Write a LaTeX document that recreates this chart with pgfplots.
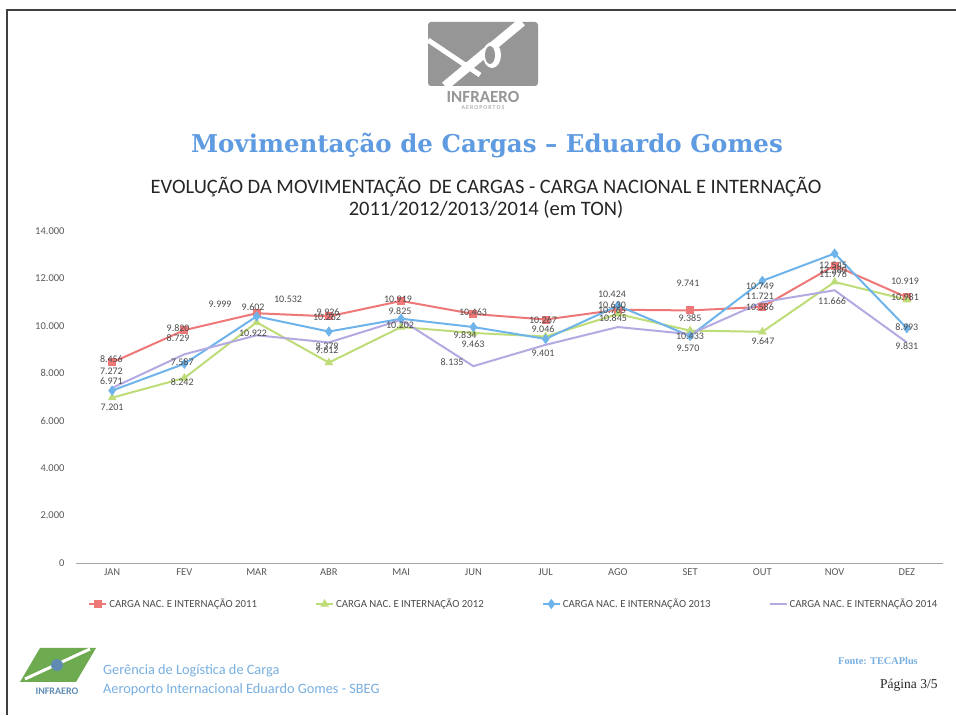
\documentclass[border=0pt]{standalone}
\usepackage{pgfplots}
\pgfplotsset{compat=1.18}
\usepackage{pgfplotstable}
\usepackage{fontspec}
\setmainfont{Carlito}
\newfontfamily\titlefont{DejaVu Serif}
\newfontfamily\pagefont{Liberation Serif}
\definecolor{c11}{RGB}{238,120,120}
\definecolor{c12}{RGB}{190,220,120}
\definecolor{c13}{RGB}{110,180,235}
\definecolor{c14}{RGB}{180,170,225}
\definecolor{tblue}{RGB}{95,155,225}
\definecolor{fblue}{RGB}{120,175,225}
\definecolor{lgray}{RGB}{150,150,150}
\definecolor{lgreen}{RGB}{110,170,80}

\pgfplotstableread{
m v11 v12 v13 v14
0 8456 6971 7272 7380
1 9820 7800 8400 8800
2 10532 10150 10400 9602
3 10400 8450 9760 9300
4 11050 9950 10300 10250
5 10500 9700 9950 8300
6 10267 9550 9450 9200
7 10680 10500 10850 9950
8 10650 9800 9570 9650
9 10800 9750 11900 11000
10 12545 11850 13050 11500
11 11200 11100 9900 9300
}\datatab

\pgfplotstableread{
x y lab
-0.01 8607 8.456
-0.01 8100 7.272
-0.01 7679 6.971
0.0 6582 7.201
0.913 9915 9.820
0.913 9493 8.729
0.97 8480 7.587
0.97 7636 8.242
1.494 10927 9.999
1.951 10801 9.602
2.435 11138 10.532
1.951 9704 10.922
2.989 10590 9.926
2.975 10379 10.262
2.975 9155 9.379
2.975 8986 9.612
3.957 11138 10.919
3.985 10632 9.825
3.985 10041 10.202
4.995 10590 10.463
4.884 9619 9.834
4.995 9240 9.463
4.705 8480 8.135
5.964 10252 10.267
5.964 9872 9.046
5.964 8860 9.401
6.918 11349 10.424
6.918 10885 10.630
6.918 10674 10.765
6.932 10337 10.845
7.970 11813 9.741
7.998 10337 9.385
7.998 9577 10.433
7.970 9071 9.570
8.966 11687 10.749
8.966 11265 11.721
8.966 10801 10.586
9.008 9366 9.647
9.977 12573 12.545
9.977 12362 12.380
9.977 12193 11.976
9.963 11054 11.666
10.973 11898 10.919
10.973 11223 10.981
11.0 9957 8.993
11.0 9155 9.831
}\labtab

\begin{document}
\begin{tikzpicture}
\path[use as bounding box] (0pt,0pt) rectangle (956pt,715pt);
\fill[white] (0pt,0pt) rectangle (956pt,715pt);
% frame
\draw[line width=2.5pt, black!75] (7pt,0pt) -- (7pt,705pt) -- (956pt,705pt);
% top logo
\fill[lgray, rounded corners=3pt] (428pt,629pt) rectangle (538pt,693pt);
\draw[white, line width=9pt] (445pt,629pt) -- (522pt,693pt);
\draw[white, line width=5pt] (428pt,675pt) -- (480pt,640pt);
\fill[white] (492pt,660pt) ellipse (9pt and 13pt);
\fill[lgray] (490pt,660pt) ellipse (5pt and 9pt);
\node[text=lgray, font=\bfseries\fontsize{17}{17}\selectfont, inner sep=0pt] at (483pt,618pt) {INFRAERO};
\node[text=lgray, font=\fontsize{6}{6}\selectfont, inner sep=0pt] at (483pt,607pt) {A\,E\,R\,O\,P\,O\,R\,T\,O\,S};
% titles
\node[text=tblue, font=\titlefont\bfseries\fontsize{24.5}{26}\selectfont, inner sep=0pt] at (487pt,569pt) {Movimentação de Cargas – Eduardo Gomes};
\node[text=black!85, font=\fontsize{20.5}{21.5}\selectfont, inner sep=0pt, align=center] at (486pt,517pt) {EVOLUÇÃO DA MOVIMENTAÇÃO \,DE CARGAS - CARGA NACIONAL E INTERNAÇÃO\\2011/2012/2013/2014 (em TON)};

\begin{axis}[
  at={(76pt,152pt)}, anchor=south west,
  scale only axis, width=867pt, height=332pt,
  xmin=-0.5, xmax=11.5, ymin=0, ymax=14000,
  xtick={0,...,11},
  xticklabels={JAN,FEV,MAR,ABR,MAI,JUN,JUL,AGO,SET,OUT,NOV,DEZ},
  ytick={0,2000,...,14000},
  scaled y ticks=false,
  /pgf/number format/.cd, 1000 sep={.}, assume math mode=true, /pgfplots/.cd,
  separate axis lines,
  axis x line*=bottom, axis y line*=left,
  y axis line style={draw=none},
  x axis line style={draw=black!35, line width=0.8pt},
  tick style={draw=none},
  ticklabel style={font=\fontsize{10.5}{10.5}\selectfont, text=black!65},
  yticklabel style={xshift=-8pt},
  xticklabel style={yshift=-2pt},
  clip=false,
  legend style={at={(0.505,-0.1235)}, anchor=center, draw=none, fill=none,
    font=\fontsize{10.8}{11}\selectfont, text=black!70, legend columns=4,
    /tikz/every even column/.append style={column sep=56pt}},
  legend cell align=left,
  every axis plot/.append style={line width=2pt},
]
\addplot[c11, mark=square*, mark size=3pt] table[x=m, y=v11]{\datatab};
\addlegendentry{CARGA NAC. E INTERNAÇÃO 2011}
\addplot[c12, mark=triangle*, mark size=3pt] table[x=m, y=v12]{\datatab};
\addlegendentry{CARGA NAC. E INTERNAÇÃO 2012}
\addplot[c13, mark=diamond*, mark size=3.5pt] table[x=m, y=v13]{\datatab};
\addlegendentry{CARGA NAC. E INTERNAÇÃO 2013}
\addplot[c14] table[x=m, y=v14]{\datatab};
\addlegendentry{CARGA NAC. E INTERNAÇÃO 2014}
\addplot[draw=none, mark=none, forget plot, nodes near coords, point meta=explicit symbolic,
  nodes near coords style={anchor=center, inner sep=0pt, font=\fontsize{10}{10}\selectfont, text=black!70}]
  table[x=x, y=y, meta=lab]{\labtab};
\end{axis}

% footer
\fill[lgreen] (20pt,33pt) -- (40pt,67pt) -- (96pt,67pt) -- (76pt,33pt) -- cycle;
\draw[white, line width=3pt] (25pt,36pt) -- (90pt,66pt);
\fill[fblue!80!black] (57pt,50pt) circle (6pt);
\node[text=fblue!80!black, font=\bfseries\fontsize{10}{10}\selectfont, inner sep=0pt] at (57pt,24pt) {INFRAERO};
\node[text=fblue, font=\fontsize{14.3}{14.3}\selectfont, anchor=west, inner sep=0pt] at (103pt,44pt) {Gerência de Logística de Carga};
\node[text=fblue, font=\fontsize{14.3}{14.3}\selectfont, anchor=west, inner sep=0pt] at (103pt,25pt) {Aeroporto Internacional Eduardo Gomes - SBEG};
\node[text=fblue, font=\pagefont\bfseries\fontsize{10.3}{10.3}\selectfont, anchor=west, inner sep=0pt] at (838pt,54pt) {Fonte: TECAPlus};
\node[text=black!85, font=\pagefont\fontsize{13.5}{13.5}\selectfont, anchor=west, inner sep=0pt] at (880pt,30pt) {Página 3/5};
\end{tikzpicture}
\end{document}
